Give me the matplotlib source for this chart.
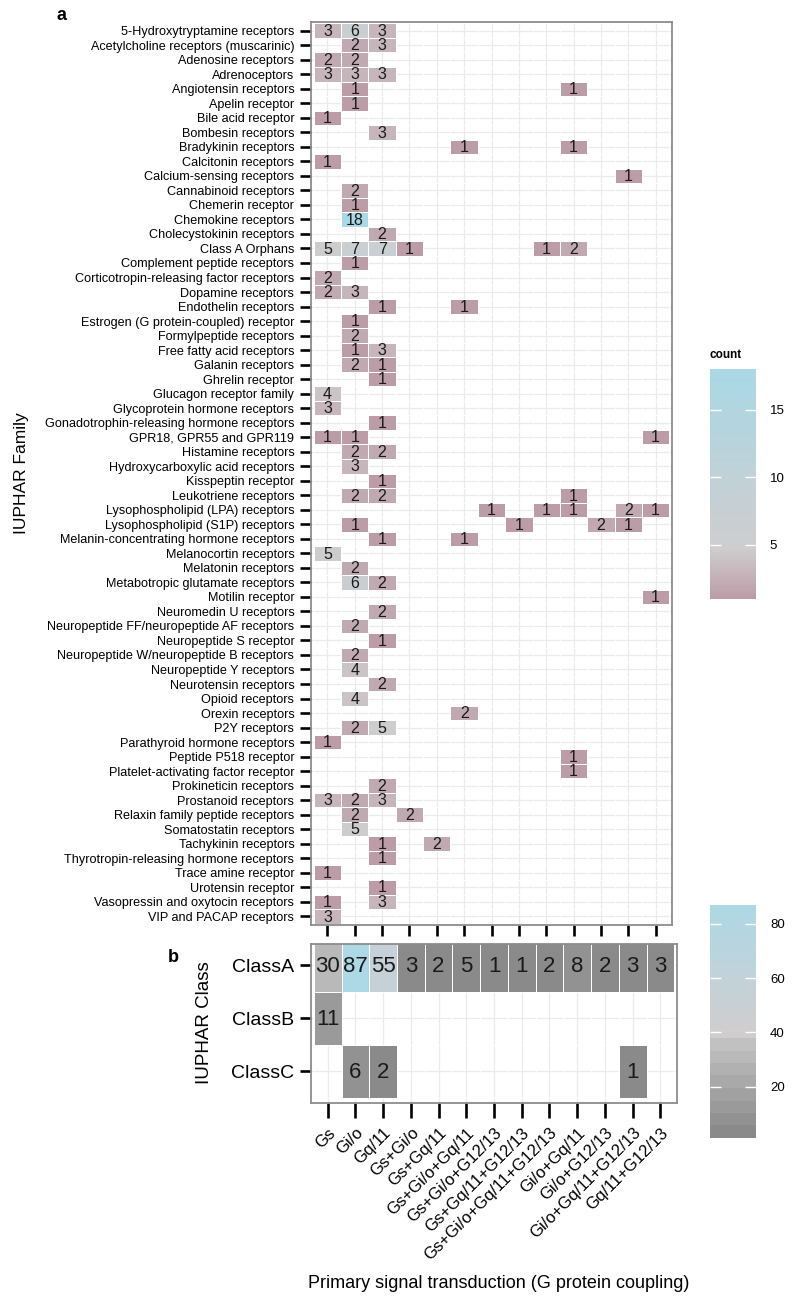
import numpy as np
import matplotlib
matplotlib.use("Agg")
import matplotlib.pyplot as plt
from matplotlib.colors import LinearSegmentedColormap, ListedColormap, Normalize, to_rgb

plt.rcParams['font.family'] = ['Liberation Sans', 'DejaVu Sans']

couplings = ["Gs", "Gi/o", "Gq/11", "Gs+Gi/o", "Gs+Gq/11", "Gs+Gi/o+Gq/11",
             "Gs+Gi/o+G12/13", "Gs+Gq/11+G12/13", "Gs+Gi/o+Gq/11+G12/13",
             "Gi/o+Gq/11", "Gi/o+G12/13", "Gi/o+Gq/11+G12/13", "Gq/11+G12/13"]

families = [
    "5-Hydroxytryptamine receptors", "Acetylcholine receptors (muscarinic)",
    "Adenosine receptors", "Adrenoceptors", "Angiotensin receptors",
    "Apelin receptor", "Bile acid receptor", "Bombesin receptors",
    "Bradykinin receptors", "Calcitonin receptors", "Calcium-sensing receptors",
    "Cannabinoid receptors", "Chemerin receptor", "Chemokine receptors",
    "Cholecystokinin receptors", "Class A Orphans", "Complement peptide receptors",
    "Corticotropin-releasing factor receptors", "Dopamine receptors",
    "Endothelin receptors", "Estrogen (G protein-coupled) receptor",
    "Formylpeptide receptors", "Free fatty acid receptors", "Galanin receptors",
    "Ghrelin receptor", "Glucagon receptor family", "Glycoprotein hormone receptors",
    "Gonadotrophin-releasing hormone receptors", "GPR18, GPR55 and GPR119",
    "Histamine receptors", "Hydroxycarboxylic acid receptors", "Kisspeptin receptor",
    "Leukotriene receptors", "Lysophospholipid (LPA) receptors",
    "Lysophospholipid (S1P) receptors", "Melanin-concentrating hormone receptors",
    "Melanocortin receptors", "Melatonin receptors",
    "Metabotropic glutamate receptors", "Motilin receptor", "Neuromedin U receptors",
    "Neuropeptide FF/neuropeptide AF receptors", "Neuropeptide S receptor",
    "Neuropeptide W/neuropeptide B receptors", "Neuropeptide Y receptors",
    "Neurotensin receptors", "Opioid receptors", "Orexin receptors", "P2Y receptors",
    "Parathyroid hormone receptors", "Peptide P518 receptor",
    "Platelet-activating factor receptor", "Prokineticin receptors",
    "Prostanoid receptors", "Relaxin family peptide receptors",
    "Somatostatin receptors", "Tachykinin receptors",
    "Thyrotropin-releasing hormone receptors", "Trace amine receptor",
    "Urotensin receptor", "Vasopressin and oxytocin receptors",
    "VIP and PACAP receptors"]

# counts per family, one column per coupling (0 = no tile)
family_counts = [
    [3, 6, 3, 0, 0, 0, 0, 0, 0, 0, 0, 0, 0],
    [0, 2, 3, 0, 0, 0, 0, 0, 0, 0, 0, 0, 0],
    [2, 2, 0, 0, 0, 0, 0, 0, 0, 0, 0, 0, 0],
    [3, 3, 3, 0, 0, 0, 0, 0, 0, 0, 0, 0, 0],
    [0, 1, 0, 0, 0, 0, 0, 0, 0, 1, 0, 0, 0],
    [0, 1, 0, 0, 0, 0, 0, 0, 0, 0, 0, 0, 0],
    [1, 0, 0, 0, 0, 0, 0, 0, 0, 0, 0, 0, 0],
    [0, 0, 3, 0, 0, 0, 0, 0, 0, 0, 0, 0, 0],
    [0, 0, 0, 0, 0, 1, 0, 0, 0, 1, 0, 0, 0],
    [1, 0, 0, 0, 0, 0, 0, 0, 0, 0, 0, 0, 0],
    [0, 0, 0, 0, 0, 0, 0, 0, 0, 0, 0, 1, 0],
    [0, 2, 0, 0, 0, 0, 0, 0, 0, 0, 0, 0, 0],
    [0, 1, 0, 0, 0, 0, 0, 0, 0, 0, 0, 0, 0],
    [0, 18, 0, 0, 0, 0, 0, 0, 0, 0, 0, 0, 0],
    [0, 0, 2, 0, 0, 0, 0, 0, 0, 0, 0, 0, 0],
    [5, 7, 7, 1, 0, 0, 0, 0, 1, 2, 0, 0, 0],
    [0, 1, 0, 0, 0, 0, 0, 0, 0, 0, 0, 0, 0],
    [2, 0, 0, 0, 0, 0, 0, 0, 0, 0, 0, 0, 0],
    [2, 3, 0, 0, 0, 0, 0, 0, 0, 0, 0, 0, 0],
    [0, 0, 1, 0, 0, 1, 0, 0, 0, 0, 0, 0, 0],
    [0, 1, 0, 0, 0, 0, 0, 0, 0, 0, 0, 0, 0],
    [0, 2, 0, 0, 0, 0, 0, 0, 0, 0, 0, 0, 0],
    [0, 1, 3, 0, 0, 0, 0, 0, 0, 0, 0, 0, 0],
    [0, 2, 1, 0, 0, 0, 0, 0, 0, 0, 0, 0, 0],
    [0, 0, 1, 0, 0, 0, 0, 0, 0, 0, 0, 0, 0],
    [4, 0, 0, 0, 0, 0, 0, 0, 0, 0, 0, 0, 0],
    [3, 0, 0, 0, 0, 0, 0, 0, 0, 0, 0, 0, 0],
    [0, 0, 1, 0, 0, 0, 0, 0, 0, 0, 0, 0, 0],
    [1, 1, 0, 0, 0, 0, 0, 0, 0, 0, 0, 0, 1],
    [0, 2, 2, 0, 0, 0, 0, 0, 0, 0, 0, 0, 0],
    [0, 3, 0, 0, 0, 0, 0, 0, 0, 0, 0, 0, 0],
    [0, 0, 1, 0, 0, 0, 0, 0, 0, 0, 0, 0, 0],
    [0, 2, 2, 0, 0, 0, 0, 0, 0, 1, 0, 0, 0],
    [0, 0, 0, 0, 0, 0, 1, 0, 1, 1, 0, 2, 1],
    [0, 1, 0, 0, 0, 0, 0, 1, 0, 0, 2, 1, 0],
    [0, 0, 1, 0, 0, 1, 0, 0, 0, 0, 0, 0, 0],
    [5, 0, 0, 0, 0, 0, 0, 0, 0, 0, 0, 0, 0],
    [0, 2, 0, 0, 0, 0, 0, 0, 0, 0, 0, 0, 0],
    [0, 6, 2, 0, 0, 0, 0, 0, 0, 0, 0, 0, 0],
    [0, 0, 0, 0, 0, 0, 0, 0, 0, 0, 0, 0, 1],
    [0, 0, 2, 0, 0, 0, 0, 0, 0, 0, 0, 0, 0],
    [0, 2, 0, 0, 0, 0, 0, 0, 0, 0, 0, 0, 0],
    [0, 0, 1, 0, 0, 0, 0, 0, 0, 0, 0, 0, 0],
    [0, 2, 0, 0, 0, 0, 0, 0, 0, 0, 0, 0, 0],
    [0, 4, 0, 0, 0, 0, 0, 0, 0, 0, 0, 0, 0],
    [0, 0, 2, 0, 0, 0, 0, 0, 0, 0, 0, 0, 0],
    [0, 4, 0, 0, 0, 0, 0, 0, 0, 0, 0, 0, 0],
    [0, 0, 0, 0, 0, 2, 0, 0, 0, 0, 0, 0, 0],
    [0, 2, 5, 0, 0, 0, 0, 0, 0, 0, 0, 0, 0],
    [1, 0, 0, 0, 0, 0, 0, 0, 0, 0, 0, 0, 0],
    [0, 0, 0, 0, 0, 0, 0, 0, 0, 1, 0, 0, 0],
    [0, 0, 0, 0, 0, 0, 0, 0, 0, 1, 0, 0, 0],
    [0, 0, 2, 0, 0, 0, 0, 0, 0, 0, 0, 0, 0],
    [3, 2, 3, 0, 0, 0, 0, 0, 0, 0, 0, 0, 0],
    [0, 2, 0, 2, 0, 0, 0, 0, 0, 0, 0, 0, 0],
    [0, 5, 0, 0, 0, 0, 0, 0, 0, 0, 0, 0, 0],
    [0, 0, 1, 0, 2, 0, 0, 0, 0, 0, 0, 0, 0],
    [0, 0, 1, 0, 0, 0, 0, 0, 0, 0, 0, 0, 0],
    [1, 0, 0, 0, 0, 0, 0, 0, 0, 0, 0, 0, 0],
    [0, 0, 1, 0, 0, 0, 0, 0, 0, 0, 0, 0, 0],
    [1, 0, 3, 0, 0, 0, 0, 0, 0, 0, 0, 0, 0],
    [3, 0, 0, 0, 0, 0, 0, 0, 0, 0, 0, 0, 0],
]

classes = ["ClassA", "ClassB", "ClassC"]
class_counts = [
    [30, 87, 55, 3, 2, 5, 1, 1, 2, 8, 2, 3, 3],
    [11, 0, 0, 0, 0, 0, 0, 0, 0, 0, 0, 0, 0],
    [0, 6, 2, 0, 0, 0, 0, 0, 0, 0, 0, 1, 0],
]

# colour scales
cmap_a = LinearSegmentedColormap.from_list(
    "fam", [(0.0, "#bc9ca6"), (0.22, "#cfcdce"), (1.0, "#a9d8e6")])
norm_a = Normalize(1, 18)

vals = np.linspace(1, 87, 256)
cols = []
lo, hi = np.array(to_rgb("#8a8a8a")), np.array(to_rgb("#c9c9c9"))
top0, top1 = np.array(to_rgb("#d2cdcd")), np.array(to_rgb("#add8e6"))
for v in vals:
    if v < 38:
        q = np.floor((v - 1) / 4.6) * 4.6 / 37
        cols.append(lo + (hi - lo) * q)
    else:
        cols.append(top0 + (top1 - top0) * (v - 38) / 49)
cmap_b = ListedColormap(cols)
norm_b = Normalize(1, 87)

W, H = 800, 1314
fig = plt.figure(figsize=(W / 100, H / 100), dpi=100)


def frac(x0, y0, x1, y1):
    return [x0 / W, 1 - y1 / H, (x1 - x0) / W, (y1 - y0) / H]


def style_axes(ax):
    ax.set_axisbelow(True)
    ax.grid(color="#ebebeb", lw=0.9)
    for s in ax.spines.values():
        s.set_color("#8c8c8c")
        s.set_linewidth(1.3)
    ax.tick_params(length=8, width=1.9, color="black", labelcolor="black", pad=4)


# panel a
ax = fig.add_axes(frac(311, 22, 672, 925))
A = np.ma.masked_equal(np.array(family_counts, dtype=float), 0)
mesh_a = ax.pcolormesh(np.arange(len(couplings) + 1) - 0.5,
                       np.arange(len(families) + 1) - 0.5, A,
                       cmap=cmap_a, norm=norm_a, edgecolors="white", linewidth=0.7)
for i, row in enumerate(family_counts):
    for j, v in enumerate(row):
        if v:
            ax.text(j, i + 0.05, str(v), ha="center", va="center", fontsize=11.5,
                    color="#1a1a1a")
ax.set_xlim(-0.6, len(couplings) - 0.4)
ax.set_ylim(len(families) - 0.4, -0.6)
ax.set_xticks(range(len(couplings)))
ax.set_xticklabels([])
ax.set_yticks(range(len(families)))
ax.set_yticklabels(families, fontsize=9.1)
style_axes(ax)
fig.text(22 / W, 1 - 473 / H, "IUPHAR Family", rotation=90, fontsize=12.5,
         ha="center", va="center")

cax = fig.add_axes(frac(710, 369, 756, 599))
cb = fig.colorbar(mesh_a, cax=cax, ticks=[5, 10, 15])
cb.outline.set_visible(False)
cax.tick_params(direction="in", length=8, width=1, colors="white", left=True,
                right=True, labelcolor="black", labelsize=9.5, pad=10)
cax.set_title("count", loc="left", fontsize=8.5, fontweight="bold", pad=8)

# panel b
bx = fig.add_axes(frac(311, 944, 677, 1103))
B = np.ma.masked_equal(np.array(class_counts, dtype=float), 0)
mesh_b = bx.pcolormesh(np.arange(len(couplings) + 1) - 0.5,
                       np.arange(len(classes) + 1) - 0.5, B,
                       cmap=cmap_b, norm=norm_b, edgecolors="white", linewidth=0.7)
for i, row in enumerate(class_counts):
    for j, v in enumerate(row):
        if v:
            bx.text(j, i + 0.02, str(v), ha="center", va="center", fontsize=16,
                    color="#1a1a1a")
bx.set_xlim(-0.6, len(couplings) - 0.4)
bx.set_ylim(len(classes) - 0.4, -0.4)
bx.set_xticks(range(len(couplings)))
bx.set_xticklabels(couplings, rotation=45, ha="right", va="top",
                   rotation_mode="anchor", fontsize=12)
bx.set_yticks(range(len(classes)))
bx.set_yticklabels(classes, fontsize=14)
style_axes(bx)
bx.tick_params(axis="x", length=11, pad=5)
fig.text(205 / W, 1 - 1023 / H, "IUPHAR Class", rotation=90, fontsize=13.5,
         ha="center", va="center")
fig.text(499 / W, 1 - 1283 / H, "Primary signal transduction (G protein coupling)",
         fontsize=13, ha="center", va="center")

cbx = fig.add_axes(frac(710, 905, 756, 1138))
cb2 = fig.colorbar(mesh_b, cax=cbx, ticks=[20, 40, 60, 80])
cb2.outline.set_visible(False)
cbx.tick_params(direction="in", length=8, width=1, colors="white", left=True,
                right=True, labelcolor="black", labelsize=9.5, pad=10)

fig.text(57 / W, 1 - 15 / H, "a", fontsize=13, fontweight="bold", ha="left", va="center")
fig.text(168 / W, 1 - 958 / H, "b", fontsize=13, fontweight="bold", ha="left", va="center")

fig.savefig("out.png", dpi=100)
